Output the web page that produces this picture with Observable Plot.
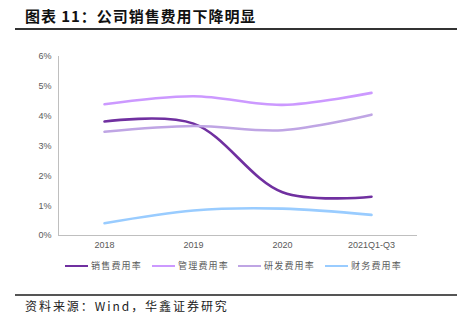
<!DOCTYPE html>
<html>
<head>
<meta charset="utf-8">
<script src="https://cdn.jsdelivr.net/npm/d3@7"></script>
<script src="https://cdn.jsdelivr.net/npm/@observablehq/plot@0.6"></script>
<style>
  html, body { margin: 0; padding: 0; background: #fff; }
  #wrap { position: relative; width: 457px; height: 321px; overflow: hidden; font-family: "Noto Sans CJK SC", sans-serif; }
  #title { position: absolute; left: 25px; top: 6px; font-size: 15px; font-weight: bold; color: #111; letter-spacing: 0.95px; line-height: 20px; white-space: nowrap; }
  #tline { position: absolute; left: 15px; right: 0; top: 28px; height: 2px; background: #333; }
  #chart { position: absolute; left: 0; top: 45px; }
  #legend { position: absolute; left: 0; top: 259px; width: 457px; height: 14px; }
  .li { position: absolute; top: 0; display: flex; align-items: center; font-size: 9px; color: #595959; letter-spacing: 1.2px; white-space: nowrap; line-height: 14px; }
  .li span.sw { display: inline-block; width: 23px; height: 2.5px; margin-right: 3px; }
  #bline { position: absolute; left: 15px; right: 0; top: 294px; height: 2px; background: #555; }
  #source { position: absolute; left: 25px; top: 297px; font-size: 12px; color: #222; letter-spacing: 1.95px; line-height: 18px; white-space: nowrap; }
</style>
</head>
<body>
<div id="wrap">
  <div id="title">图表 11：公司销售费用下降明显</div>
  <div id="tline"></div>
  <div id="chart"></div>
  <div id="legend"></div>
  <div id="bline"></div>
  <div id="source">资料来源：Wind，华鑫证券研究</div>
</div>
<script>
const years = ["2018", "2019", "2020", "2021Q1-Q3"];
const seriesNames = ["销售费用率", "管理费用率", "研发费用率", "财务费用率"];
const salesRate = [3.82, 3.75, 1.45, 1.30];
const mgmtRate  = [4.40, 4.67, 4.38, 4.78];
const rdRate    = [3.48, 3.67, 3.53, 4.05];
const finRate   = [0.41, 0.84, 0.90, 0.69];
const yTicks = [0, 1, 2, 3, 4, 5, 6];
const colors = ["#7030A0", "#CC99FF", "#BFA5E4", "#99CCFF"];

const seriesValues = [salesRate, mgmtRate, rdRate, finRate];
const data = [];
seriesNames.forEach((name, i) => {
  years.forEach((yr, j) => data.push({series: name, year: yr, value: seriesValues[i][j]}));
});

const plot = Plot.plot({
  width: 457,
  height: 210,
  marginTop: 11,
  marginBottom: 20,
  marginLeft: 58,
  marginRight: 40,
  style: {fontSize: "9px", fontFamily: "'Liberation Sans', Arial, sans-serif", color: "#595959", background: "transparent"},
  x: {type: "point", domain: years, padding: 0.5, label: null},
  y: {domain: [0, 6], label: null},
  color: {domain: seriesNames, range: colors},
  marks: [
    Plot.axisY({ticks: yTicks, tickFormat: d => d + "%", tickSize: 0, tickPadding: 7, label: null, fill: "#595959"}),
    Plot.axisX({tickSize: 0, tickPadding: 6, label: null, fill: "#595959"}),
    Plot.frame({anchor: "left", stroke: "#BFBFBF", strokeWidth: 1}),
    Plot.ruleY([0], {stroke: "#BFBFBF", strokeWidth: 1.2}),
    Plot.line(data, {x: "year", y: "value", z: "series", stroke: "series", strokeWidth: 2.6, curve: "catmull-rom"})
  ]
});
document.getElementById("chart").appendChild(plot);

const legend = document.getElementById("legend");
const legendX = [65, 152, 238, 325];
seriesNames.forEach((name, i) => {
  const d = document.createElement("div");
  d.className = "li";
  d.style.left = legendX[i] + "px";
  d.innerHTML = `<span class="sw" style="background:${colors[i]}"></span>${name}`;
  legend.appendChild(d);
});
</script>
</body>
</html>
